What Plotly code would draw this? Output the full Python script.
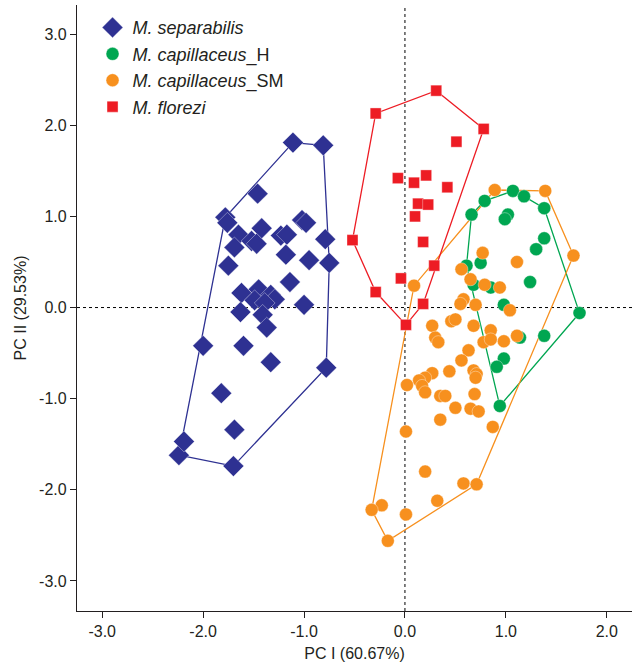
import plotly.graph_objects as go

# ---- data ----
sep_x = [-1.11, -0.81, -0.79, -0.75, -0.78, -1.70, -2.24, -2.19, -2.00, -1.78,
         -1.46, -1.76, -1.42, -1.02, -0.98, -1.65, -1.52, -1.47, -1.69, -1.23,
         -1.17, -1.18, -0.95, -1.75, -1.14, -1.62, -1.45, -1.33, -1.29, -1.49,
         -1.39, -1.00, -1.63, -1.41, -1.37, -1.60, -1.33, -1.82, -1.69]
sep_y = [1.81, 1.78, 0.75, 0.49, -0.66, -1.74, -1.62, -1.47, -0.42, 0.99,
         1.25, 0.93, 0.87, 0.96, 0.93, 0.80, 0.73, 0.70, 0.66, 0.79,
         0.80, 0.58, 0.52, 0.46, 0.28, 0.16, 0.20, 0.14, 0.09, 0.08,
         0.05, 0.03, -0.05, -0.08, -0.22, -0.42, -0.60, -0.94, -1.34]

caph_x = [1.07, 1.18, 1.38, 0.79, 0.66, 1.02, 0.99, 1.38, 1.30, 0.61,
          0.75, 1.24, 0.68, 0.85, 0.98, 1.73, 1.14, 1.38, 0.98, 0.91, 0.94]
caph_y = [1.28, 1.22, 1.09, 1.17, 1.02, 1.02, 0.97, 0.76, 0.64, 0.46,
          0.49, 0.28, 0.25, 0.22, 0.03, -0.06, -0.33, -0.31, -0.56, -0.65, -1.08]

capsm_x = [0.89, 1.39, 1.67, 0.77, 1.11, 0.56, 0.65, 0.79, 0.94, 0.58,
           0.55, 0.70, 1.04, 0.09, 0.27, 0.46, 0.50, 0.68, 0.85, 0.78,
           0.85, 0.98, 1.11, 0.30, 0.33, 0.63, 0.56, 0.27, 0.44, 0.20,
           0.14, 0.17, 0.20, 0.68, 0.71, 0.70, 0.02, 0.35, 0.40, 0.69,
           0.50, 0.65, 0.73, 0.35, 0.01, 0.87, 0.20, 0.58, 0.71, 0.32,
           -0.23, -0.33, 0.01, -0.17]
capsm_y = [1.29, 1.28, 0.57, 0.60, 0.50, 0.42, 0.31, 0.25, 0.22, 0.09,
           0.04, 0.03, -0.03, 0.24, -0.20, -0.15, -0.13, -0.20, -0.25, -0.38,
           -0.35, -0.37, -0.31, -0.33, -0.38, -0.47, -0.58, -0.72, -0.70, -0.77,
           -0.80, -0.86, -0.93, -0.69, -0.73, -0.77, -0.85, -0.97, -0.97, -0.95,
           -1.10, -1.11, -1.14, -1.23, -1.36, -1.31, -1.80, -1.93, -1.94, -2.12,
           -2.17, -2.22, -2.27, -2.56]

flo_x = [0.31, -0.29, 0.78, 0.51, -0.07, 0.09, 0.21, 0.42, 0.13, 0.23,
         0.10, -0.52, 0.18, 0.29, -0.04, -0.29, 0.18, 0.01]
flo_y = [2.38, 2.13, 1.96, 1.82, 1.42, 1.37, 1.45, 1.32, 1.14, 1.13,
         1.00, 0.74, 0.72, 0.46, 0.32, 0.17, 0.04, -0.19]

x_ticks = [-3.0, -2.0, -1.0, 0.0, 1.0, 2.0]
y_ticks = [-3.0, -2.0, -1.0, 0.0, 1.0, 2.0, 3.0]


def hull(xs, ys):
    pts = sorted(set(zip(xs, ys)))

    def cross(o, a, b):
        return (a[0] - o[0]) * (b[1] - o[1]) - (a[1] - o[1]) * (b[0] - o[0])

    lower, upper = [], []
    for p in pts:
        while len(lower) >= 2 and cross(lower[-2], lower[-1], p) <= 0:
            lower.pop()
        lower.append(p)
    for p in reversed(pts):
        while len(upper) >= 2 and cross(upper[-2], upper[-1], p) <= 0:
            upper.pop()
        upper.append(p)
    h = lower[:-1] + upper[:-1]
    h.append(h[0])
    return [p[0] for p in h], [p[1] for p in h]


groups = [
    ("<i>M. separabilis</i>", sep_x, sep_y, "#2E3192", "diamond", 16),
    ("<i>M. capillaceus</i>_H", caph_x, caph_y, "#00A651", "circle", 13),
    ("<i>M. capillaceus</i>_SM", capsm_x, capsm_y, "#F7901E", "circle", 13),
    ("<i>M. florezi</i>", flo_x, flo_y, "#ED1C24", "square", 11),
]

fig = go.Figure()
for name, xs, ys, col, sym, sz in groups:
    hx, hy = hull(xs, ys)
    fig.add_trace(go.Scatter(x=hx, y=hy, mode="lines", line=dict(color=col, width=1.3),
                             showlegend=False, hoverinfo="skip"))
for name, xs, ys, col, sym, sz in groups:
    fig.add_trace(go.Scatter(x=xs, y=ys, mode="markers", name=name,
                             marker=dict(color=col, symbol=sym, size=sz,
                                         line=dict(color="rgba(255,255,255,0.6)", width=0.6))))

# dotted zero lines
fig.add_shape(type="line", x0=0, x1=0, y0=0, y1=1, xref="x", yref="paper",
              line=dict(color="black", width=1, dash="dot"), layer="below")
fig.add_shape(type="line", x0=0, x1=1, y0=0, y1=0, xref="paper", yref="y",
              line=dict(color="black", width=1, dash="dot"), layer="below")

font_family = "Liberation Sans, Arial, sans-serif"
fig.update_layout(
    width=641, height=667,
    margin=dict(l=77, r=9, t=5, b=56),
    plot_bgcolor="white", paper_bgcolor="white",
    font=dict(family=font_family, color="#231F20", size=16),
    legend=dict(x=0.028, y=0.993, xanchor="left", yanchor="top",
                bgcolor="rgba(0,0,0,0)", font=dict(size=18), itemsizing="trace"),
    showlegend=True,
)
fig.update_xaxes(range=[-3.25, 2.25], tickvals=x_ticks, ticktext=[f"{v:.1f}" for v in x_ticks],
                 showgrid=False, zeroline=False, showline=True, linecolor="#231F20",
                 linewidth=1.2, ticks="outside", ticklen=6, tickcolor="#231F20",
                 automargin=False, tickfont=dict(size=16),
                 title=dict(text="PC I (60.67%)", font=dict(size=16), standoff=8))
fig.update_yaxes(range=[-3.33, 3.32], tickvals=y_ticks, ticktext=[f"{v:.1f}" for v in y_ticks],
                 showgrid=False, zeroline=False, showline=True, linecolor="#231F20",
                 linewidth=1.2, ticks="outside", ticklen=6, tickcolor="#231F20",
                 automargin=False, tickfont=dict(size=16),
                 title=dict(text="PC II (29.53%)", font=dict(size=16), standoff=8))

fig.write_html("out.html", config={"displayModeBar": False},
               post_script="document.body.style.margin='0';")
